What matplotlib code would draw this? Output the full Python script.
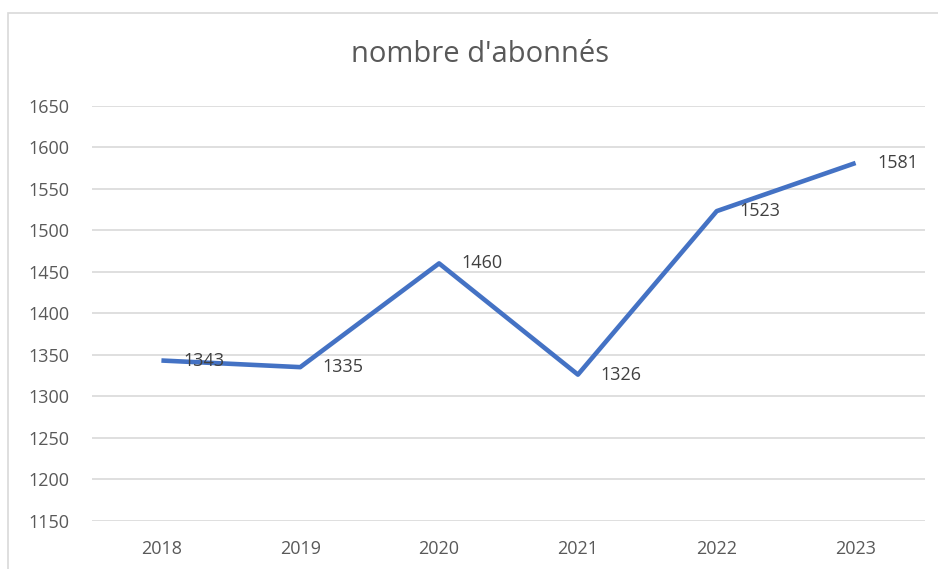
import matplotlib.pyplot as plt
from matplotlib.patches import Rectangle

years = ['2018', '2019', '2020', '2021', '2022', '2023']
abonnes = [1343, 1335, 1460, 1326, 1523, 1581]
y_ticks = [1150, 1200, 1250, 1300, 1350, 1400, 1450, 1500, 1550, 1600, 1650]

plt.rcParams['font.family'] = ['Open Sans', 'DejaVu Sans']

fig = plt.figure(figsize=(9.38, 5.69), dpi=100)

# chart frame (cut off at right and bottom in the original screenshot)
fig.patches.append(Rectangle((8 / 938, -0.1), 1.2, 1 - 13 / 569 + 0.1,
                             transform=fig.transFigure, fill=False,
                             edgecolor='#d9d9d9', linewidth=1.2))

ax = fig.add_axes([92 / 938, 1 - 520.7 / 569, (925 - 92) / 938, (520.7 - 105.7) / 569])

x = list(range(len(years)))
ax.plot(x, abonnes, color='#4472c4', linewidth=3.3, solid_capstyle='butt', zorder=3)

for xi, v in zip(x, abonnes):
    ax.annotate(str(v), (xi, v), xytext=(16, 0), textcoords='offset points',
                va='center', ha='left', fontsize=13, color='#404040', zorder=4)

ax.set_xlim(-0.5, len(years) - 0.5)
ax.set_ylim(1150, 1650)
ax.set_xticks(x)
ax.set_xticklabels(years)
ax.set_yticks(y_ticks)
ax.tick_params(length=0, labelsize=13, labelcolor='#595959')
ax.tick_params(axis='y', pad=16)
ax.tick_params(axis='x', pad=14)
ax.grid(axis='y', color='#d9d9d9', linewidth=1.2)
ax.set_axisbelow(True)
for s in ax.spines.values():
    s.set_visible(False)

fig.text(480 / 938, 1 - 55 / 569, "nombre d'abonnés", ha='center', va='center',
         fontsize=21, color='#595959')

fig.savefig('out.png', dpi=100)
